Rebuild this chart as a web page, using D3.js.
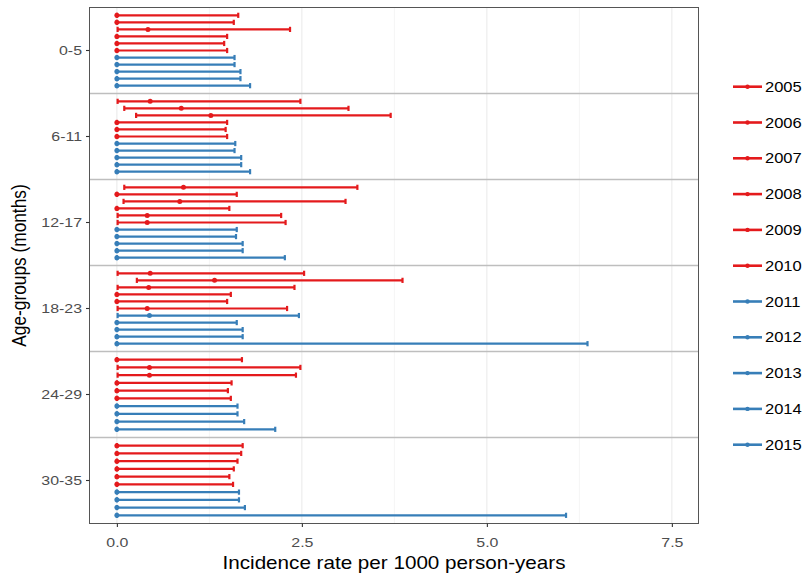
<!DOCTYPE html>
<html>
<head>
<meta charset="utf-8">
<script src="https://cdn.jsdelivr.net/npm/d3@7"></script>
<style>
  html, body { margin: 0; padding: 0; background: #ffffff; }
  svg { display: block; }
  text { font-family: "Liberation Sans", Arial, Helvetica, sans-serif; }
</style>
</head>
<body>
<svg id="chart" width="804" height="576"></svg>
<script>
// ---------------- data ----------------
const ageGroups = ["0-5", "6-11", "12-17", "18-23", "24-29", "30-35"];
const years = [2005, 2006, 2007, 2008, 2009, 2010, 2011, 2012, 2013, 2014, 2015];
const xTicks = [0, 2.5, 5, 7.5];

// rows: age groups; columns: years 2005..2015 (null = no estimate)
const pointEst = [
  [0, 0, 0.42, 0, 0, 0, 0, 0, 0, 0, 0],
  [0.45, 0.87, 1.27, 0, 0, 0, 0, 0, 0, 0, 0],
  [0.90, 0, 0.85, 0, 0.41, 0.41, 0, 0, 0, 0, 0],
  [0.45, 1.32, 0.43, 0, 0, 0.41, 0.44, 0, 0, 0, 0],
  [0, 0.44, 0.44, 0, 0, 0, 0, 0, 0, null, 0],
  [0, 0, 0, 0, 0, 0, 0, 0, 0, null, 0]
];
const lowerCI = [
  [0, 0, 0.01, 0, 0, 0, 0, 0, 0, 0, 0],
  [0.01, 0.10, 0.26, 0, 0, 0, 0, 0, 0, 0, 0],
  [0.10, 0, 0.09, 0, 0.01, 0.01, 0, 0, 0, 0, 0],
  [0.01, 0.27, 0.01, 0, 0, 0.01, 0.01, 0, 0, 0, 0],
  [0, 0.01, 0.01, 0, 0, 0, 0, 0, 0, null, 0],
  [0, 0, 0, 0, 0, 0, 0, 0, 0, null, 0]
];
const upperCI = [
  [1.64, 1.58, 2.34, 1.49, 1.45, 1.49, 1.59, 1.59, 1.67, 1.67, 1.80],
  [2.48, 3.13, 3.70, 1.49, 1.47, 1.49, 1.60, 1.59, 1.68, 1.68, 1.80],
  [3.25, 1.62, 3.09, 1.52, 2.22, 2.28, 1.62, 1.61, 1.70, 1.70, 2.27],
  [2.53, 3.86, 2.40, 1.54, 1.49, 2.30, 2.46, 1.62, 1.70, 1.70, 6.36],
  [1.69, 2.48, 2.42, 1.55, 1.50, 1.54, 1.63, 1.63, 1.72, null, 2.14],
  [1.70, 1.68, 1.63, 1.58, 1.52, 1.57, 1.65, 1.65, 1.73, null, 6.07]
];
const yearColor = y => (y <= 2010 ? "#E41A1C" : "#377EB8");

// ---------------- layout ----------------
const svg = d3.select("#chart");
const panel = { left: 89.5, right: 698.5, top: 7.5, bottom: 523.5 };
const textStretch = 1.18; // horizontal widening of glyphs seen in the reference

const x = d3.scaleLinear().domain([-0.37, 7.86]).range([panel.left, panel.right]);
const yGroup = d3.scaleBand().domain(ageGroups).range([panel.top, panel.bottom]).padding(0);

// panel background
svg.append("rect")
  .attr("x", panel.left).attr("y", panel.top)
  .attr("width", panel.right - panel.left).attr("height", panel.bottom - panel.top)
  .attr("fill", "#ffffff");

// minor grid
const minorTicks = [1.25, 3.75, 6.25];
svg.append("g").selectAll("line").data(minorTicks).join("line")
  .attr("x1", d => x(d)).attr("x2", d => x(d))
  .attr("y1", panel.top).attr("y2", panel.bottom)
  .attr("stroke", "#F2F2F2").attr("stroke-width", 0.8);
// major grid
svg.append("g").selectAll("line").data(xTicks).join("line")
  .attr("x1", d => x(d)).attr("x2", d => x(d))
  .attr("y1", panel.top).attr("y2", panel.bottom)
  .attr("stroke", "#EBEBEB").attr("stroke-width", 1.1);

// separators between age groups
svg.append("g").selectAll("line").data(ageGroups.slice(1)).join("line")
  .attr("x1", panel.left).attr("x2", panel.right)
  .attr("y1", d => yGroup(d)).attr("y2", d => yGroup(d))
  .attr("stroke", "#BEBEBE").attr("stroke-width", 1.6);

// build rows with dodge
const rows = [];
ageGroups.forEach((g, gi) => {
  const present = years.filter((yr, yi) => upperCI[gi][yi] !== null);
  const c = yGroup(g) + yGroup.bandwidth() / 2;
  const w = yGroup.bandwidth() * 0.9;
  const inner = d3.scaleBand().domain(present).range([c - w / 2, c + w / 2]);
  years.forEach((yr, yi) => {
    if (upperCI[gi][yi] === null) return;
    rows.push({
      group: g, year: yr,
      y: inner(yr) + inner.bandwidth() / 2,
      lo: lowerCI[gi][yi], est: pointEst[gi][yi], hi: upperCI[gi][yi]
    });
  });
});

const marks = svg.append("g");
// horizontal error bars
marks.selectAll("line.bar").data(rows).join("line")
  .attr("class", "bar")
  .attr("x1", d => x(d.lo)).attr("x2", d => x(d.hi))
  .attr("y1", d => d.y).attr("y2", d => d.y)
  .attr("stroke", d => yearColor(d.year)).attr("stroke-width", 2.2);
// caps
const capH = 2.6;
["lo", "hi"].forEach(k => {
  marks.selectAll("line.cap-" + k).data(rows).join("line")
    .attr("class", "cap-" + k)
    .attr("x1", d => x(d[k])).attr("x2", d => x(d[k]))
    .attr("y1", d => d.y - capH).attr("y2", d => d.y + capH)
    .attr("stroke", d => yearColor(d.year)).attr("stroke-width", 2.2);
});
// point estimates
marks.selectAll("circle").data(rows).join("circle")
  .attr("cx", d => x(d.est)).attr("cy", d => d.y).attr("r", 2.5)
  .attr("fill", d => yearColor(d.year));

// panel border
svg.append("rect")
  .attr("x", panel.left).attr("y", panel.top)
  .attr("width", panel.right - panel.left).attr("height", panel.bottom - panel.top)
  .attr("fill", "none").attr("stroke", "#555555").attr("stroke-width", 1);

// axes
const xAxis = svg.append("g").attr("transform", `translate(0,${panel.bottom})`)
  .call(d3.axisBottom(x).tickValues(xTicks).tickFormat(d3.format(".1f")).tickSizeOuter(0).tickSize(3.5).tickPadding(10));
xAxis.select(".domain").remove();
xAxis.selectAll(".tick line").attr("stroke", "#333333").attr("stroke-width", 1.1);
xAxis.selectAll(".tick text").attr("fill", "#4D4D4D").style("font-size", "13.5px")
  .attr("transform", `scale(${textStretch},1)`);

const yAxis = svg.append("g").attr("transform", `translate(${panel.left},0)`)
  .call(d3.axisLeft(yGroup).tickSizeOuter(0).tickSize(3.5).tickPadding(4));
yAxis.select(".domain").remove();
yAxis.selectAll(".tick line").attr("stroke", "#333333").attr("stroke-width", 1.1);
yAxis.selectAll(".tick text").attr("fill", "#4D4D4D").style("font-size", "13.5px")
  .attr("x", -7.5 / textStretch)
  .attr("transform", `scale(${textStretch},1)`);

// axis titles
svg.append("text")
  .attr("transform", `translate(${(panel.left + panel.right) / 2},569) scale(${textStretch},1)`)
  .attr("text-anchor", "middle").attr("fill", "#000")
  .style("font-size", "17.5px")
  .text("Incidence rate per 1000 person-years");
svg.append("text")
  .attr("transform", `translate(26,${(panel.top + panel.bottom) / 2}) scale(${textStretch},1) rotate(-90)`)
  .attr("text-anchor", "middle").attr("fill", "#000")
  .style("font-size", "17.3px")
  .text("Age-groups (months)");

// legend
const legY = d3.scalePoint().domain(years).range([86.7, 444.7]);
const leg = svg.append("g").selectAll("g").data(years).join("g")
  .attr("transform", d => `translate(0,${legY(d)})`);
leg.append("line").attr("x1", 733).attr("x2", 762).attr("y1", 0).attr("y2", 0)
  .attr("stroke", d => yearColor(d)).attr("stroke-width", 2.6);
leg.append("circle").attr("cx", 747.5).attr("cy", 0).attr("r", 2.2)
  .attr("fill", d => yearColor(d));
leg.append("text").attr("transform", `translate(765,0) scale(${textStretch},1)`)
  .attr("dy", "0.36em")
  .attr("fill", "#000").style("font-size", "14px")
  .text(d => d);
</script>
</body>
</html>
